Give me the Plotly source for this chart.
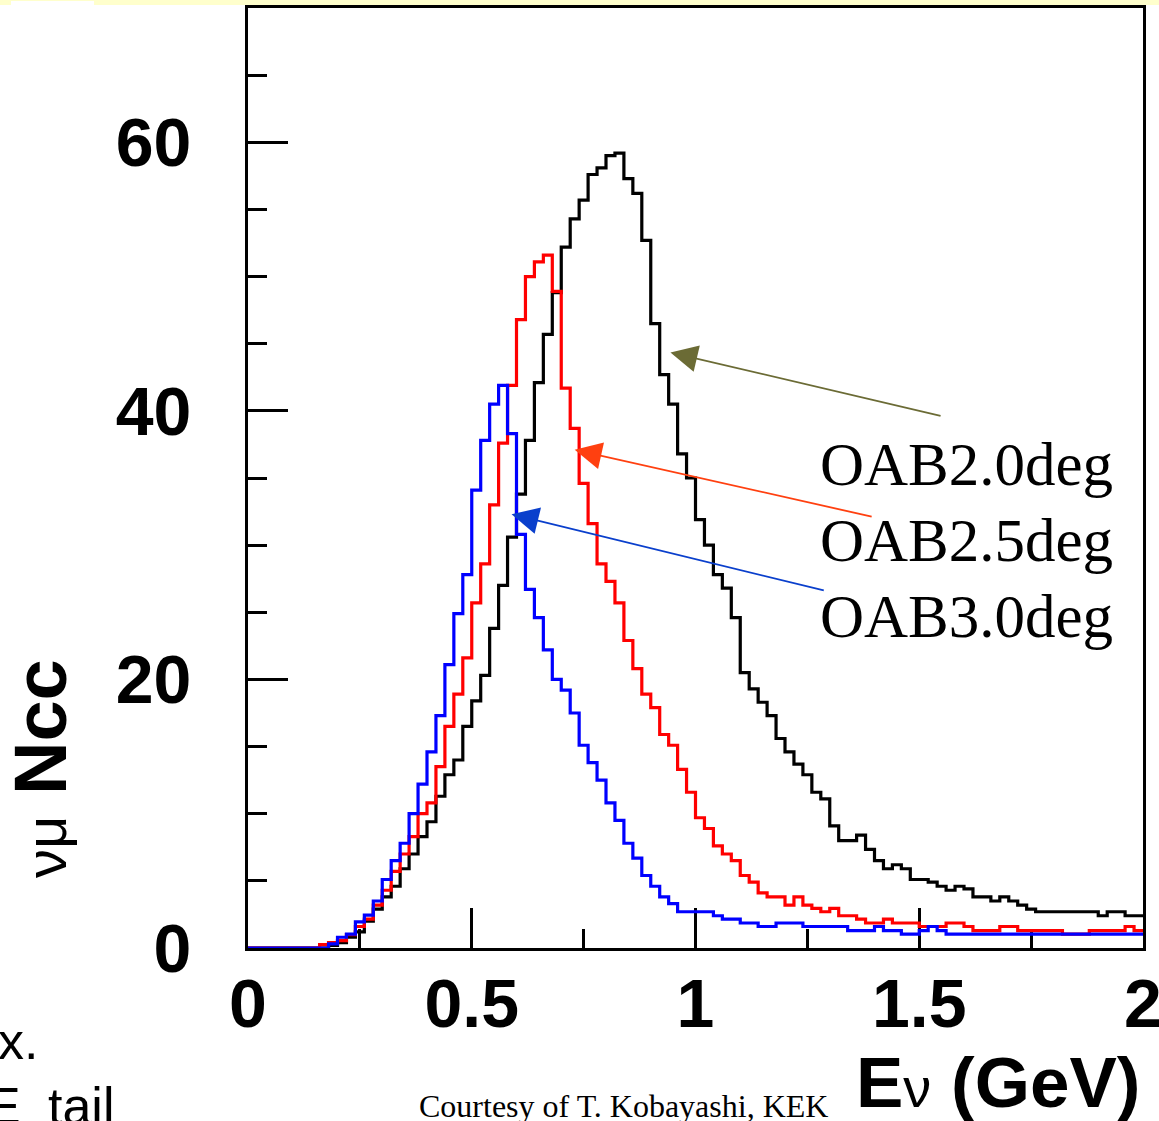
import numpy as np
import plotly.graph_objects as go

# ---- data -------------------------------------------------------------
E_MIN, E_MAX, N_BINS = 0.0, 2.0, 100

series_names = ["OAB2.0deg", "OAB2.5deg", "OAB3.0deg"]
series_colors = ["#000000", "#ff0000", "#0000ff"]

oab20 = [0, 0, 0, 0, 0, 0, 0, 0, 0, 0.2,
         0.4, 0.8, 1.2, 2.0, 2.9, 3.8, 4.6, 5.9, 7.0, 8.3,
         9.4, 11.3, 12.9, 14.0, 16.5, 18.4, 20.3, 23.8, 27.0, 30.6,
         33.8, 37.8, 42.1, 45.7, 48.8, 52.2, 54.3, 55.7, 57.6, 58.1,
         59.0, 59.2, 57.3, 56.2, 52.7, 46.5, 42.7, 40.5, 36.8, 35.0,
         31.9, 30.0, 27.8, 26.8, 24.6, 20.5, 19.3, 18.3, 17.3, 15.6,
         14.6, 13.7, 12.9, 11.6, 11.1, 9.1, 8.0, 8.0, 8.4, 7.35,
         6.5, 5.9, 6.2, 5.9, 5.1, 5.1, 4.9, 4.6, 4.3, 4.6,
         4.4, 3.8, 3.8, 3.5, 3.8, 3.5, 3.2, 2.9, 2.7, 2.7,
         2.7, 2.7, 2.7, 2.7, 2.7, 2.4, 2.7, 2.7, 2.4, 2.4]

oab25 = [0, 0, 0, 0, 0, 0, 0, 0, 0.25, 0.4,
         0.55, 1.0, 1.6, 2.15, 3.2, 4.3, 5.7, 7.0, 8.3, 10.0,
         10.8, 13.5, 16.5, 18.9, 21.6, 25.7, 28.6, 33.0, 37.6, 41.9,
         46.8, 50.0, 51.1, 51.6, 48.9, 41.7, 38.7, 34.6, 31.6, 28.6,
         27.3, 25.7, 22.9, 20.8, 18.9, 17.9, 15.9, 15.1, 13.3, 11.6,
         9.7, 8.9, 7.6, 7.0, 6.5, 5.4, 4.9, 4.1, 3.8, 3.8,
         3.2, 3.8, 3.2, 2.95, 2.7, 2.95, 2.4, 2.4, 2.15, 1.86,
         1.86, 2.15, 1.86, 1.86, 1.86, 1.6, 1.6, 1.6, 1.86, 1.86,
         1.6, 1.3, 1.3, 1.3, 1.6, 1.6, 1.3, 1.3, 1.3, 1.3,
         1.3, 1.04, 1.04, 1.04, 1.3, 1.3, 1.3, 1.3, 1.6, 1.3]

oab30 = [0, 0, 0, 0, 0, 0, 0, 0, 0, 0.3,
         0.8, 1.04, 1.95, 2.45, 3.5, 5.1, 6.5, 7.8, 10.0, 12.2,
         14.6, 17.3, 21.1, 24.9, 27.8, 34.1, 37.8, 40.5, 41.9, 38.3,
         30.8, 26.7, 24.6, 22.2, 20.0, 19.2, 17.5, 15.1, 13.8, 12.5,
         10.8, 9.5, 7.8, 6.7, 5.4, 4.6, 3.8, 3.3, 2.7, 2.7,
         2.7, 2.7, 2.4, 2.15, 2.15, 1.86, 1.86, 1.6, 1.6, 1.86,
         1.86, 1.86, 1.6, 1.6, 1.6, 1.6, 1.6, 1.3, 1.3, 1.3,
         1.6, 1.3, 1.3, 1.04, 1.04, 1.3, 1.6, 1.3, 1.04, 1.04,
         1.04, 1.04, 1.04, 1.04, 1.04, 1.04, 1.04, 1.04, 1.04, 1.04,
         1.04, 1.04, 1.04, 1.04, 1.04, 1.04, 1.04, 1.04, 1.04, 1.04]

x_tick_vals = [0, 0.5, 1, 1.5, 2]
x_tick_text = ["0", "0.5", "1", "1.5", "2"]
y_tick_vals = [0, 20, 40, 60]
y_tick_text = ["0", "20", "40", "60"]

# ---- figure -----------------------------------------------------------
edges = np.linspace(E_MIN, E_MAX, N_BINS + 1)

fig = go.Figure()
for name, vals, col in zip(series_names, [oab20, oab25, oab30], series_colors):
    fig.add_trace(go.Scatter(
        x=edges, y=list(vals) + [vals[-1]],
        mode="lines", line=dict(shape="hv", color=col, width=3.2),
        name=name, showlegend=False, hoverinfo="skip"))

W, H = 1159, 1121
L, R, T, B = 248, 16, 8, 173
pw, ph = W - L - R, H - T - B


def px2paper(px, py):
    return (px - L) / pw, (H - B - py) / ph


tick_font = dict(family="Liberation Sans, Arial, sans-serif", size=68,
                 color="black", weight="bold")

fig.update_xaxes(range=[E_MIN, E_MAX], tickvals=x_tick_vals, ticktext=x_tick_text,
                 ticks="inside", ticklen=40, tickwidth=3, tickcolor="black",
                 minor=dict(dtick=0.25, ticks="inside", ticklen=19, tickwidth=3,
                            tickcolor="black", showgrid=False),
                 showline=True, linewidth=3, linecolor="black", mirror=True,
                 showgrid=False, zeroline=False, tickfont=tick_font,
                 ticklabelstandoff=-6, ticklabeloverflow="allow", layer="below traces")
fig.update_yaxes(range=[0, 70], tickvals=y_tick_vals, ticktext=y_tick_text,
                 ticks="inside", ticklen=40, tickwidth=3, tickcolor="black",
                 minor=dict(dtick=5, ticks="inside", ticklen=19, tickwidth=3,
                            tickcolor="black", showgrid=False),
                 showline=True, linewidth=3, linecolor="black", mirror=True,
                 showgrid=False, zeroline=False, tickfont=tick_font,
                 ticklabelstandoff=40, ticklabeloverflow="allow", layer="below traces")

annotations = []
# arrows pointing at curves
arrow_specs = [
    ((0.944, 44.35), (1.551, 39.6), "#6b6b35"),
    ((0.730, 37.1), (1.397, 32.1), "#ff4010"),
    ((0.589, 32.3), (1.290, 26.6), "#0a3fcc"),
]
for (tx, ty), (sx, sy), col in arrow_specs:
    annotations.append(dict(x=tx, y=ty, ax=sx, ay=sy, xref="x", yref="y",
                            axref="x", ayref="y", text="", showarrow=True,
                            arrowhead=2, arrowsize=3, arrowwidth=1.8,
                            arrowcolor=col))

serif = dict(family="Liberation Serif, Times New Roman, serif", size=61, color="black")
for i, name in enumerate(series_names):
    xp, yp = px2paper(818, 486 + 76 * i)
    annotations.append(dict(x=xp, y=yp, xref="paper", yref="paper", text=name,
                            showarrow=False, xanchor="left", yanchor="bottom",
                            font=serif, yshift=-14))

# y-axis title
xp, yp = px2paper(40, 769)
annotations.append(dict(x=xp, y=yp, xref="paper", yref="paper",
                        text="<span style='font-weight:normal;font-size:58px'>νμ</span> Ncc",
                        textangle=-90, showarrow=False, xanchor="center", yanchor="middle",
                        font=dict(family="Liberation Sans, Arial, sans-serif", size=74,
                                  color="black", weight="bold")))
# x-axis title
xp, yp = px2paper(1142, 1110)
annotations.append(dict(x=xp, y=yp, xref="paper", yref="paper",
                        text="E<span style='font-weight:normal;font-size:56px'>ν</span> (GeV)",
                        showarrow=False, xanchor="right", yanchor="bottom", yshift=-14,
                        font=dict(family="Liberation Sans, Arial, sans-serif", size=71,
                                  color="black", weight="bold")))
# credit
xp, yp = px2paper(417, 1118)
annotations.append(dict(x=xp, y=yp, xref="paper", yref="paper",
                        text="Courtesy of T. Kobayashi, KEK", showarrow=False,
                        xanchor="left", yanchor="bottom", yshift=-8,
                        font=dict(family="Liberation Serif, Times New Roman, serif",
                                  size=32, color="black")))
# slide remnants on the left
sans = dict(family="Liberation Sans, Arial, sans-serif", size=52, color="black")
xp, yp = px2paper(-4, 1060)
annotations.append(dict(x=xp, y=yp, xref="paper", yref="paper", text="x.",
                        showarrow=False, xanchor="left", yanchor="bottom", yshift=-12,
                        font=sans))
xp, yp = px2paper(-16, 1125)
annotations.append(dict(x=xp, y=yp, xref="paper", yref="paper", text="E",
                        showarrow=False, xanchor="left", yanchor="bottom", yshift=-12,
                        font=sans))
xp, yp = px2paper(46, 1125)
annotations.append(dict(x=xp, y=yp, xref="paper", yref="paper", text="tail",
                        showarrow=False, xanchor="left", yanchor="bottom", yshift=-12,
                        font=sans))

shapes = [
    dict(type="rect", xref="paper", yref="paper",
         x0=px2paper(0, 0)[0], x1=px2paper(W, 0)[0],
         y0=px2paper(0, 5)[1], y1=px2paper(0, 0)[1],
         fillcolor="#ffffcc", line=dict(width=0), layer="below"),
    dict(type="rect", xref="paper", yref="paper",
         x0=px2paper(11, 0)[0], x1=px2paper(94, 0)[0],
         y0=px2paper(0, 5)[1], y1=px2paper(0, 1)[1],
         fillcolor="white", line=dict(width=0), layer="below"),
]

fig.update_layout(width=W, height=H, margin=dict(l=L, r=R, t=T, b=B, autoexpand=False),
                  plot_bgcolor="white", paper_bgcolor="white",
                  annotations=annotations, shapes=shapes, showlegend=False)

fig.write_html("out.html", config=dict(displayModeBar=False))
